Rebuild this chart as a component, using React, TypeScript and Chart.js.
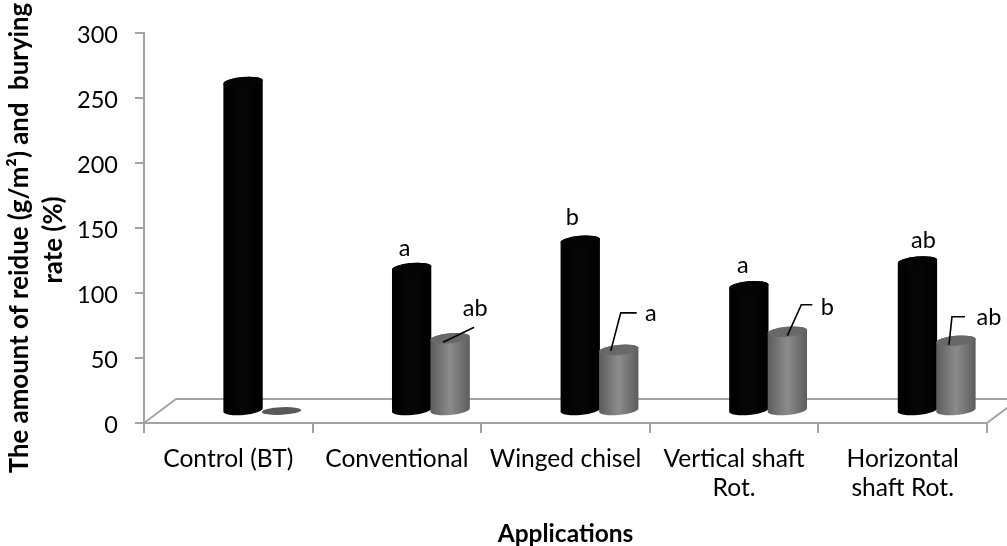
import React, { useEffect, useRef } from "react";
import { Chart, registerables } from "chart.js";

Chart.register(...registerables);

const categories = [
  "Control (BT)",
  "Conventional",
  "Winged chisel",
  ["Vertical shaft", "Rot."],
  ["Horizontal", "shaft Rot."],
];
const residue = [253, 110, 131, 96, 115];
const burying = [0, 56, 47, 61, 54];
const residueLetters = ["", "a", "b", "a", "ab"];
const buryingLetters = ["", "ab", "a", "b", "ab"];
const yTitleLines = ["The amount of reidue (g/m\u00b2) and  burying", "rate (%)"];
const xTitle = "Applications";

const FONT = "Lato, Carlito, sans-serif";
const AXIS = "#a3a3a3";
const DEPTH_X = 34;
const DEPTH_Y = 12;

// label offsets relative to the cylinder's top centre
const residueLabelOffset = [null, [-7, -20], [-8, -23], [-6, -21], [6, -21]];
// text offset and leader polyline relative to the cylinder's top centre
const buryingCallouts: any[] = [
  null,
  { text: [25, -30], line: [[-7, 4], [24, -11]] },
  { text: [32, -36], line: [[-8, 1], [2, -37], [18, -37]] },
  { text: [40, -24], line: [[0, 4], [14, -27], [25, -27]] },
  { text: [33, -23], line: [[-7, 4], [-4, -24], [9, -24]] },
];

function cylinder(ctx: CanvasRenderingContext2D, el: any, kind: number) {
  const { x, y, base, width } = el.getProps(["x", "y", "base", "width"], true);
  const cx = x + DEPTH_X;
  const top = y - DEPTH_Y;
  const bot = base - DEPTH_Y;
  const rx = width / 2 + 0.5;
  const ry = 5;
  const rot = -0.09;
  if (Math.abs(bot - top) < 1) {
    ctx.fillStyle = "#585858";
    ctx.beginPath();
    ctx.ellipse(cx, bot, rx, 3.8, rot / 2, 0, Math.PI * 2);
    ctx.fill();
    return;
  }
  const g = ctx.createLinearGradient(cx - rx, 0, cx + rx, 0);
  if (kind === 0) {
    g.addColorStop(0, "#000000");
    g.addColorStop(0.5, "#060606");
    g.addColorStop(1, "#000000");
  } else {
    g.addColorStop(0, "#5c5c5c");
    g.addColorStop(0.5, "#8c8c8c");
    g.addColorStop(1, "#5c5c5c");
  }
  ctx.fillStyle = g;
  ctx.beginPath();
  ctx.ellipse(cx, bot, rx, ry, rot, 0, Math.PI);
  ctx.ellipse(cx, top, rx, ry, rot, Math.PI, Math.PI * 2);
  ctx.closePath();
  ctx.fill();
  ctx.fillStyle = kind === 0 ? "#040404" : "#686868";
  ctx.beginPath();
  ctx.ellipse(cx, top, rx, ry, rot, 0, Math.PI * 2);
  ctx.fill();
}

const cylinderPlugin = {
  id: "cylinder3d",
  beforeDatasetsDraw(chart: any) {
    const { ctx, chartArea: a } = chart;
    ctx.save();
    ctx.strokeStyle = AXIS;
    ctx.lineWidth = 2;
    ctx.beginPath();
    ctx.moveTo(a.left, a.bottom);
    ctx.lineTo(a.left + 32, a.bottom - 24);
    ctx.lineTo(a.right + 24, a.bottom - 24);
    ctx.moveTo(a.right, a.bottom);
    ctx.lineTo(a.right + 24, a.bottom - 18);
    ctx.stroke();
    ctx.restore();
  },
  beforeDatasetDraw() {
    return false;
  },
  afterDatasetsDraw(chart: any) {
    const { ctx } = chart;
    ctx.save();
    [0, 1].forEach((k) => {
      chart.getDatasetMeta(k).data.forEach((el: any) => cylinder(ctx, el, k));
    });
    ctx.fillStyle = "#000";
    ctx.strokeStyle = "#000";
    ctx.lineWidth = 1.6;
    ctx.font = `23.5px ${FONT}`;
    ctx.textAlign = "center";
    ctx.textBaseline = "middle";
    chart.getDatasetMeta(0).data.forEach((el: any, i: number) => {
      const off = residueLabelOffset[i];
      if (!off) return;
      ctx.fillText(residueLetters[i], el.x + DEPTH_X + off[0], el.y - DEPTH_Y + off[1]);
    });
    chart.getDatasetMeta(1).data.forEach((el: any, i: number) => {
      const c = buryingCallouts[i];
      if (!c) return;
      const cx = el.x + DEPTH_X;
      const cy = el.y - DEPTH_Y;
      ctx.beginPath();
      c.line.forEach((p: number[], j: number) => {
        if (j === 0) ctx.moveTo(cx + p[0], cy + p[1]);
        else ctx.lineTo(cx + p[0], cy + p[1]);
      });
      ctx.stroke();
      ctx.fillText(buryingLetters[i], cx + c.text[0], cy + c.text[1]);
    });
    // rotated, two-line value axis title
    ctx.font = `bold 25.8px ${FONT}`;
    ctx.translate(20, 238);
    ctx.rotate(-Math.PI / 2);
    ctx.fillText(yTitleLines[0], 0, 0);
    ctx.fillText(yTitleLines[1], -2, 34);
    ctx.restore();
  },
};

export default function App() {
  const ref = useRef<HTMLCanvasElement>(null);
  useEffect(() => {
    const chart = new Chart(ref.current!, {
      type: "bar",
      data: {
        labels: categories as any,
        datasets: [
          { label: "Residue", data: residue, backgroundColor: "#000000" },
          { label: "Burying rate", data: burying, backgroundColor: "#7f7f7f" },
        ],
      },
      options: {
        animation: false,
        responsive: false,
        devicePixelRatio: 1,
        layout: { padding: { top: 33, right: 20, left: 0, bottom: 0 } },
        datasets: { bar: { barPercentage: 1, categoryPercentage: 0.4567 } },
        plugins: { legend: { display: false }, tooltip: { enabled: false } },
        scales: {
          x: {
            afterFit: (s: any) => {
              s.height = 123;
            },
            grid: { drawOnChartArea: false, drawTicks: true, tickLength: 10, color: AXIS, lineWidth: 2 },
            border: { color: AXIS, width: 2 },
            ticks: { color: "#000", font: { family: FONT, size: 24.6, lineHeight: 1.2 }, maxRotation: 0, autoSkip: false, padding: 11 },
            title: { display: true, text: xTitle, color: "#000", font: { family: FONT, size: 24.5, weight: "bold" }, padding: { top: 7, bottom: -3 } },
          },
          y: {
            min: 0,
            max: 300,
            afterFit: (s: any) => {
              s.width = 144;
            },
            grid: { drawOnChartArea: false, drawTicks: true, tickLength: 9, color: AXIS, lineWidth: 2 },
            border: { color: AXIS, width: 2 },
            ticks: { stepSize: 50, color: "#000", font: { family: FONT, size: 23.5 }, padding: 17, labelOffset: 2 },
          },
        },
      },
      plugins: [cylinderPlugin],
    } as any);
    return () => chart.destroy();
  }, []);
  return (
    <div style={{ position: "fixed", left: 0, top: 0, width: 1007, height: 546, background: "#fff" }}>
      <canvas ref={ref} width={1007} height={546} style={{ display: "block", width: 1007, height: 546 }} />
    </div>
  );
}
